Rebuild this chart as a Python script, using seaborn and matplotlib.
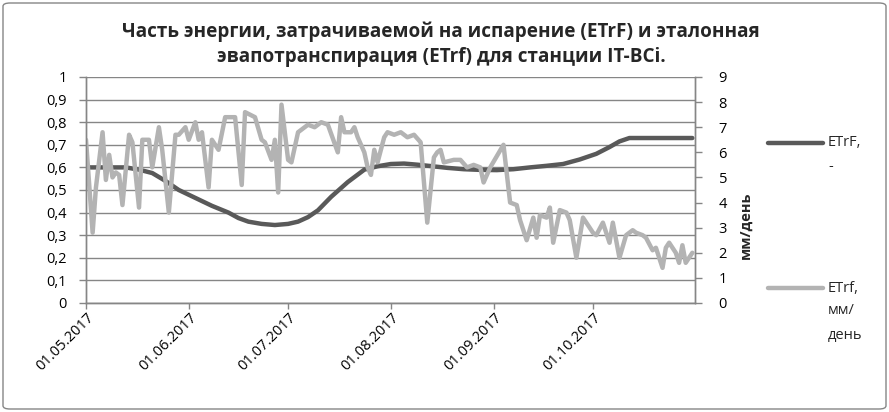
import matplotlib
matplotlib.use("Agg")
import matplotlib.pyplot as plt
import matplotlib.dates as mdates
import matplotlib.ticker as mticker
import matplotlib.transforms as mtransforms
from matplotlib.patches import FancyBboxPatch
from matplotlib.lines import Line2D
import pandas as pd
import seaborn as sns

start = pd.Timestamp("2017-05-01")

# ETrF, доля (левая ось) - дни от 01.05.2017
etrF_day = [0, 6, 12, 16, 20, 24, 28, 33, 38, 43, 46, 49, 53, 57, 61, 64, 67, 70, 74, 79,
            84, 88, 92, 96, 100, 104, 109, 114, 119, 124, 129, 134, 139, 144, 149, 154,
            158, 161, 164, 170, 176, 183]
etrF_val = [0.60, 0.60, 0.60, 0.59, 0.575, 0.54, 0.50, 0.465, 0.43, 0.40, 0.376, 0.36, 0.35,
            0.345, 0.35, 0.36, 0.38, 0.41, 0.47, 0.535, 0.59, 0.605, 0.615, 0.617, 0.612,
            0.606, 0.598, 0.592, 0.589, 0.588, 0.592, 0.60, 0.607, 0.615, 0.635, 0.66,
            0.69, 0.715, 0.73, 0.73, 0.73, 0.73]

# ETrf, мм/день (правая ось)
etrf_day = [0, 2, 3, 5, 6, 7, 8, 9, 10, 11, 13, 14, 16, 17, 19, 20, 22, 23, 25, 27, 28, 30,
            31, 33, 34, 35, 37, 38, 40, 42, 45, 47, 48, 51, 53, 54, 56, 57, 58, 59, 61, 62,
            64, 67, 69, 71, 73, 76, 77, 78, 80, 81, 82, 84, 85, 86, 87, 88, 90, 91, 93, 95,
            97, 99, 101, 103, 105, 106, 107, 108, 111, 113, 115, 117, 119, 120, 122, 126,
            128, 130, 131, 133, 135, 136, 137, 139, 140, 141, 143, 145, 146, 148, 150, 151,
            153, 154, 156, 158, 159, 161, 163, 165, 166, 168, 169, 171, 172, 174, 175, 176,
            178, 179, 180, 181, 183]
etrf_val = [6.5, 2.8, 4.6, 6.8, 4.9, 5.9, 5.0, 5.2, 5.1, 3.9, 6.7, 6.4, 3.8, 6.5, 6.5, 5.4,
            7.0, 6.1, 3.6, 6.7, 6.7, 7.0, 6.5, 7.2, 6.5, 6.8, 4.6, 6.5, 6.1, 7.4, 7.4, 4.7,
            7.6, 7.4, 6.5, 6.4, 5.7, 6.5, 4.4, 7.9, 5.7, 5.6, 6.8, 7.1, 7.0, 7.2, 7.1, 6.0,
            7.4, 6.8, 6.8, 7.0, 6.6, 6.0, 5.4, 5.1, 6.1, 5.6, 6.6, 6.8, 6.7, 6.8, 6.6, 6.7,
            6.4, 3.2, 5.8, 6.0, 6.1, 5.6, 5.7, 5.7, 5.4, 5.5, 5.4, 4.8, 5.4, 6.3, 4.0, 3.9,
            3.3, 2.5, 3.4, 2.6, 3.5, 3.4, 3.8, 2.4, 3.7, 3.6, 3.3, 1.8, 3.4, 3.2, 2.8, 2.7,
            3.2, 2.4, 3.2, 1.8, 2.7, 2.9, 2.8, 2.7, 2.6, 2.1, 2.2, 1.4, 2.2, 2.4, 2.0, 1.6,
            2.3, 1.6, 2.0]

month_ticks = ["2017-05-01", "2017-06-01", "2017-07-01", "2017-08-01", "2017-09-01", "2017-10-01"]

dark = "#595959"
light = "#b3b3b3"
axis_col = "#868686"

sns.set_theme(style="white")
plt.rcParams['font.family'] = ['Open Sans', 'Liberation Sans', 'DejaVu Sans']

df1 = pd.DataFrame({"date": start + pd.to_timedelta(etrF_day, unit="D"), "val": etrF_val})
df2 = pd.DataFrame({"date": start + pd.to_timedelta(etrf_day, unit="D"), "val": etrf_val})

fig = plt.figure(figsize=(8.89, 4.12), dpi=100)
ax = fig.add_axes([86 / 889, 1 - 303 / 412, (695 - 86) / 889, (303 - 77) / 412])
ax2 = ax.twinx()

sns.lineplot(data=df1, x="date", y="val", ax=ax, color=dark, linewidth=3.2)
sns.lineplot(data=df2, x="date", y="val", ax=ax2, color=light, linewidth=3.2)

ax.set_xlim(start, start + pd.Timedelta(days=183.8))
ax.set_ylim(0, 1)
ax2.set_ylim(0, 9)


def comma_fmt(v, pos):
    if abs(v - round(v)) < 1e-9:
        return str(int(round(v)))
    return f"{v:.1f}".replace(".", ",")


ax.yaxis.set_major_locator(mticker.MultipleLocator(0.1))
ax.yaxis.set_major_formatter(mticker.FuncFormatter(comma_fmt))
ax2.yaxis.set_major_locator(mticker.MultipleLocator(1))

ax.set_xticks(pd.to_datetime(month_ticks))
ax.xaxis.set_major_formatter(mdates.DateFormatter("%d.%m.%Y"))

ax.grid(axis="y", color=axis_col, linewidth=1)
ax.grid(axis="x", visible=False)
ax2.grid(False)

for a in (ax, ax2):
    a.spines["top"].set_visible(False)
    for side in ("left", "right", "bottom"):
        a.spines[side].set_color(axis_col)
        a.spines[side].set_linewidth(1)
    a.set_xlabel("")
    a.set_ylabel("")

ax.tick_params(axis="y", direction="out", length=5, width=1, color=axis_col,
               labelsize=10.5, labelcolor="black", left=True, pad=9)
ax.tick_params(axis="x", direction="out", length=4, width=1, color=axis_col,
               labelsize=10.5, labelcolor="black", bottom=True, pad=2)
ax2.tick_params(axis="y", direction="out", length=5, width=1, color=axis_col,
                labelsize=10.5, labelcolor="black", right=True, pad=12)

# сдвиг подписей дат, как в Excel
shift = mtransforms.ScaledTranslation(6 / 100, -4 / 100, fig.dpi_scale_trans)
for lab in ax.get_xticklabels():
    lab.set_rotation(45)
    lab.set_ha("right")
    lab.set_va("center")
    lab.set_rotation_mode("anchor")
    lab.set_transform(lab.get_transform() + shift)

# заголовок
fig.text(441 / 889, 1 - 32 / 412, "Часть энергии, затрачиваемой на испарение (ETrF) и эталонная",
         ha="center", va="center", fontsize=13.6, fontweight="bold")
fig.text(441 / 889, 1 - 57 / 412, "эвапотранспирация (ETrf) для станции IT-BCi.",
         ha="center", va="center", fontsize=13.6, fontweight="bold")

# подпись правой оси
fig.text(746 / 889, 1 - 225 / 412, "мм/день", rotation=90, ha="center", va="center",
         fontsize=10.5, fontweight="bold")

# легенда
fig.add_artist(Line2D([768 / 889, 823 / 889], [1 - 143 / 412] * 2, color=dark, linewidth=3.2,
                      transform=fig.transFigure))
fig.add_artist(Line2D([768 / 889, 823 / 889], [1 - 288 / 412] * 2, color=light, linewidth=3.2,
                      transform=fig.transFigure))
fig.text(828 / 889, 1 - 143 / 412, "ETrF,", ha="left", va="center", fontsize=10.5)
fig.text(828 / 889, 1 - 166 / 412, "-", ha="left", va="center", fontsize=10.5)
fig.text(828 / 889, 1 - 288 / 412, "ETrf,", ha="left", va="center", fontsize=10.5)
fig.text(828 / 889, 1 - 311 / 412, "мм/", ha="left", va="center", fontsize=10.5)
fig.text(828 / 889, 1 - 335 / 412, "день", ha="left", va="center", fontsize=10.5)

# рамка области диаграммы
fig.add_artist(FancyBboxPatch((3 / 889, 3 / 412), 883 / 889, 406 / 412,
                              boxstyle="round,pad=0,rounding_size=0.008",
                              transform=fig.transFigure, fill=False, edgecolor=axis_col,
                              linewidth=1))

fig.savefig("out.png", dpi=100)
